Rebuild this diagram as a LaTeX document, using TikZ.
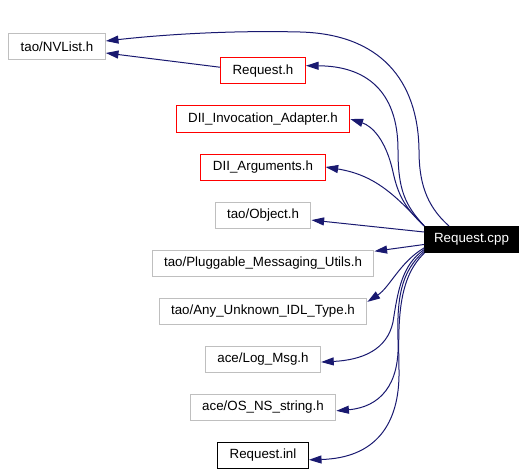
\documentclass[tikz,border=0pt]{standalone}
\usepackage{fontspec}
\setmainfont{Liberation Sans}
\usetikzlibrary{arrows.meta}
\definecolor{edgeblue}{HTML}{191970}
\definecolor{boxgray}{HTML}{BFBFBF}
\begin{document}
\begin{tikzpicture}[x=0.75pt, y=-0.75pt,
  file/.style={draw=boxgray, rectangle, line width=0.75pt, minimum height=19.5pt, inner xsep=9pt, inner ysep=0pt},
  redfile/.style={file, draw=red},
  blackfile/.style={file, draw=black},
  mainfile/.style={file, draw=black, fill=black, text=white, inner xsep=7pt},
  dep/.style={draw=edgeblue, line width=0.75pt, -{Triangle[length=9.5pt, width=6pt]}}]
\useasboundingbox (0,0) rectangle (527,474);
\node[file]      (nvlist) at (57,47)    {tao/NVList.h};
\node[redfile]   (reqh)   at (263,71)   {Request.h};
\node[redfile]   (dii)    at (263,119)  {DII\_Invocation\_Adapter.h};
\node[redfile]   (darg)   at (263,167)  {DII\_Arguments.h};
\node[file]      (obj)    at (263,215)  {tao/Object.h};
\node[mainfile]  (cpp)    at (471.5,239.5) {Request.cpp};
\node[file]      (plug)   at (263,263)  {tao/Pluggable\_Messaging\_Utils.h};
\node[file]      (any)    at (263,311)  {tao/Any\_Unknown\_IDL\_Type.h};
\node[file]      (log)    at (263,359)  {ace/Log\_Msg.h};
\node[file]      (os)     at (263,407)  {ace/OS\_NS\_string.h};
\node[blackfile] (inl)    at (263,455)  {Request.inl};
\draw[dep] (cpp.149) .. controls (425,205) and (419,180) .. (419,150)
  .. controls (418,80) and (380,34) .. (300,32)
  .. controls (220,30) and (150,36) .. (nvlist.7);
\draw[dep] (reqh.175) -- (nvlist.-7);
\draw[dep] (cpp.north west) .. controls (405,205) and (398,190) .. (398,150)
  .. controls (398,90) and (365,66) .. (reqh.7);
\draw[dep] (cpp.north west) .. controls (405,208) and (398,195) .. (393,172)
  .. controls (386,140) and (372,126) .. (dii.east);
\draw[dep] (cpp.north west) .. controls (395,195) and (375,175) .. (darg.east);
\draw[dep] (cpp.171) -- (obj.-6);
\draw[dep] (cpp.186) -- (plug.6);
\draw[dep] (cpp.190) .. controls (400,262) and (390,287) .. (any.5);
\draw[dep] (cpp.192) .. controls (402,265) and (398,290) .. (393,322)
  .. controls (387,350) and (362,360) .. (log.-3);
\draw[dep] (cpp.194) .. controls (400,272) and (397,300) .. (398,340)
  .. controls (400,385) and (380,407) .. (os.-3);
\draw[dep] (cpp.196) .. controls (398,278) and (398,320) .. (399,370)
  .. controls (400,425) and (375,458) .. (inl.-6);
\end{tikzpicture}
\end{document}
